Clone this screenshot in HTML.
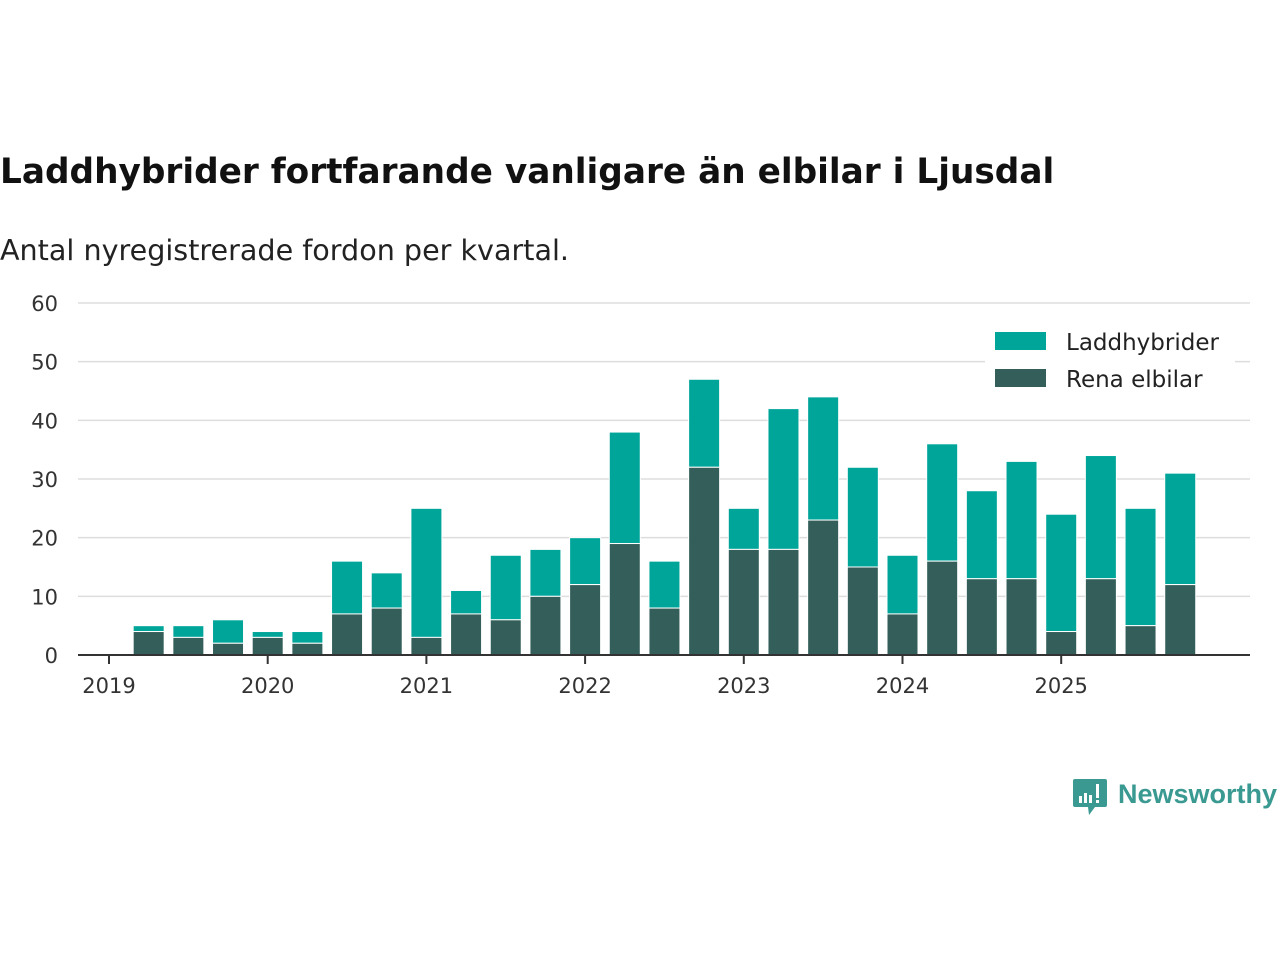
<!DOCTYPE html>
<html><head><meta charset="utf-8"><style>
body{margin:0;background:#fff;font-family:"DejaVu Sans","Liberation Sans",sans-serif;}
#wrap{position:relative;width:1280px;height:960px;overflow:hidden}
</style></head><body><div id="wrap">
<svg width="1280" height="960" xmlns="http://www.w3.org/2000/svg">
<text x="0" y="183" font-size="34.3" font-weight="bold" fill="#111">Laddhybrider fortfarande vanligare än elbilar i Ljusdal</text>
<text x="0" y="260" font-size="28.6" fill="#222">Antal nyregistrerade fordon per kvartal.</text>
<g id="grid"></g><g id="bars"></g><g id="axis"></g>
<g>
<rect x="985" y="325" width="250" height="37" fill="#fff"/>
<rect x="985" y="362" width="250" height="35" fill="#fff"/>
<rect x="995" y="332" width="51" height="18" fill="#00a59a"/>
<text x="1066" y="350" font-size="23" fill="#222">Laddhybrider</text>
<rect x="995" y="369" width="51" height="18" fill="#335e59"/>
<text x="1066" y="387" font-size="23" fill="#222">Rena elbilar</text>
</g>
<g>
<path d="M1075 779 h30 a2 2 0 0 1 2 2 v24 a2 2 0 0 1 -2 2 h-10 l-6 8 l-1 -8 h-13 a2 2 0 0 1 -2 -2 v-24 a2 2 0 0 1 2 -2z" fill="#3a9a92"/>
<rect x="1079" y="796" width="3" height="7" fill="#fff"/><rect x="1084" y="793" width="3" height="10" fill="#fff"/><rect x="1089" y="795" width="3" height="8" fill="#fff"/><rect x="1096" y="784" width="3" height="14" fill="#fff"/><rect x="1096" y="800" width="3" height="3" fill="#fff"/>
<text x="1118" y="803" font-size="27" font-weight="bold" fill="#3a9a92" font-family="Liberation Sans, sans-serif">Newsworthy</text>
</g>
</svg>
<script>
const categories=["2019Q2","2019Q3","2019Q4","2020Q1","2020Q2","2020Q3","2020Q4","2021Q1","2021Q2","2021Q3","2021Q4","2022Q1","2022Q2","2022Q3","2022Q4","2023Q1","2023Q2","2023Q3","2023Q4","2024Q1","2024Q2","2024Q3","2024Q4","2025Q1","2025Q2","2025Q3","2025Q4"];
const totals=[5,5,6,4,4,16,14,25,11,17,18,20,38,16,47,25,42,44,32,17,36,28,33,24,34,25,31];
const elbilar=[4,3,2,3,2,7,8,3,7,6,10,12,19,8,32,18,18,23,15,7,16,13,13,4,13,5,12];
const yTicks=[0,10,20,30,40,50,60];
const xYears=[2019,2020,2021,2022,2023,2024,2025];
const NS="http://www.w3.org/2000/svg";
const y=v=>655-v*(352/60);
const xYear=yr=>109+(yr-2019)*158.7;
const xIdx=i=>109+(i+1)*158.7/4;
function mk(t,a,p){const e=document.createElementNS(NS,t);for(const k in a)e.setAttribute(k,a[k]);p.appendChild(e);return e;}
const grid=document.getElementById('grid'),bars=document.getElementById('bars'),axis=document.getElementById('axis');
yTicks.forEach(v=>{
 if(v>0){const l=mk('line',{x1:78,x2:1250,y1:y(v),y2:y(v),stroke:'#dddddd','stroke-width':1.5},grid);
 
 }
 const t=mk('text',{x:58,y:y(v)+8,'font-size':21,fill:'#333','text-anchor':'end'},axis);t.textContent=v;
 
 
});
categories.forEach((c,i)=>{
 const cx=xIdx(i),w=31;
 const r1=mk('rect',{x:cx-w/2,y:y(totals[i]),width:w,height:y(elbilar[i])-y(totals[i]),fill:'#00a59a',stroke:'#fff','stroke-width':1},bars);
 
 
 const r2=mk('rect',{x:cx-w/2,y:y(elbilar[i]),width:w,height:655-y(elbilar[i]),fill:'#335e59',stroke:'#fff','stroke-width':1},bars);
 
 
});
const ax=mk('line',{x1:78,x2:1250,y1:655,y2:655,stroke:'#333','stroke-width':2},axis);


xYears.forEach(yr=>{
 const tk=mk('line',{x1:xYear(yr),x2:xYear(yr),y1:655,y2:664,stroke:'#333','stroke-width':2},axis);
 
 
 const t=mk('text',{x:xYear(yr),y:693,'font-size':21,fill:'#333','text-anchor':'middle'},axis);t.textContent=yr;
 
 
});
</script>
</div></body></html>
